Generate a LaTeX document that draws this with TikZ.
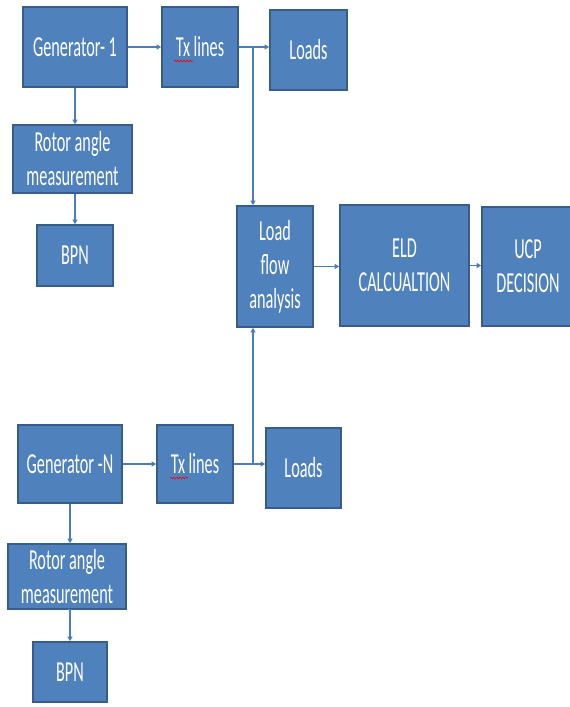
\documentclass[tikz,border=0pt]{standalone}
\usepackage{fontspec}
\newfontfamily\blkfont[FakeStretch=0.56]{Carlito}
\usetikzlibrary{positioning,
        arrows.meta,
        decorations.pathmorphing}
\definecolor{blkfill}{HTML}{4F81BD}
\definecolor{blkedge}{HTML}{385D8A}
\definecolor{wire}{HTML}{4A7EBB}

\begin{document}
\begin{tikzpicture}[x=1pt,y=-1pt,
        blk/.style={rectangle,draw=blkedge,line width=1.6pt,fill=blkfill,text=white,
            align=center,inner sep=0pt,
            font=\blkfont\fontsize{29}{34}\selectfont},
        conn/.style={draw=wire,line width=1.2pt,-{Triangle[length=4.5pt,width=5pt]}},
        wire/.style={draw=wire,line width=1.2pt},
        squig/.style={draw=red,line width=0.6pt,decorate,
            decoration={snake,amplitude=0.9pt,segment length=3pt}}]
            \useasboundingbox (0,0) rectangle (570,707);
            % first generator branch
            \node [blk,minimum width=104,minimum height=80] (Gen1) at (75,47) {Generator- 1};
            \node [blk,minimum width=76,minimum height=80] (TxA) at (200,47) {Tx lines};
            \node [blk,minimum width=77,minimum height=80] (LoadA) at (308.5,50) {Loads};
            \node [blk,minimum width=119,minimum height=68] (RotA) at (72.5,159) {Rotor angle\\measurement};
            \node [blk,minimum width=76,minimum height=61] (BpnA) at (75,255.5) {BPN};
            % centre row
            \node [blk,minimum width=76,minimum height=121] (LF) at (275,266.5) {Load\\flow\\analysis};
            \node [blk,minimum width=129,minimum height=121] (ELD) at (404.5,265.5) {ELD\\CALCUALTION};
            \node [blk,minimum width=92,minimum height=119] (UCP) at (528,266.5) {UCP\\DECISION};
            % N-th generator branch
            \node [blk,minimum width=104,minimum height=78] (GenN) at (70,464) {Generator -N};
            \node [blk,minimum width=76,minimum height=78] (TxB) at (195,464) {Tx lines};
            \node [blk,minimum width=75,minimum height=80] (LoadB) at (303.5,468) {Loads};
            \node [blk,minimum width=118,minimum height=65] (RotB) at (67,576.5) {Rotor angle\\measurement};
            \node [blk,minimum width=74,minimum height=60] (BpnB) at (70,672) {BPN};

            \coordinate (JA) at (253,47);
            \coordinate (JB) at (253,464);

            % spell-check marks under Tx
            \draw [squig] ([xshift=-26,yshift=-14]TxA.center) -- ++(19,0);
            \draw [squig] ([xshift=-25,yshift=-14]TxB.center) -- ++(18,0);

            \draw [conn] (Gen1) -- (TxA);
            \draw [conn] (TxA.east) -- (TxA.east -| LoadA.west);
            \draw [conn] (JA) -- (JA |- LF.north);
            \draw [conn] (Gen1.south) -- (Gen1.south |- RotA.north);
            \draw [conn] (BpnA.north |- RotA.south) -- (BpnA.north);
            \draw [conn] (LF.east) -- (LF.east -| ELD.west);
            \draw [conn] (ELD.east) -- (ELD.east -| UCP.west);
            \draw [conn] (GenN) -- (TxB);
            \draw [conn] (TxB.east) -- (TxB.east -| LoadB.west);
            \draw [conn] (JB) -- (JB |- LF.south);
            \draw [conn] (GenN.south) -- (GenN.south |- RotB.north);
            \draw [conn] (RotB.south) -- (RotB.south -| BpnB.north) -- (BpnB.north);
        \end{tikzpicture}
\end{document}
